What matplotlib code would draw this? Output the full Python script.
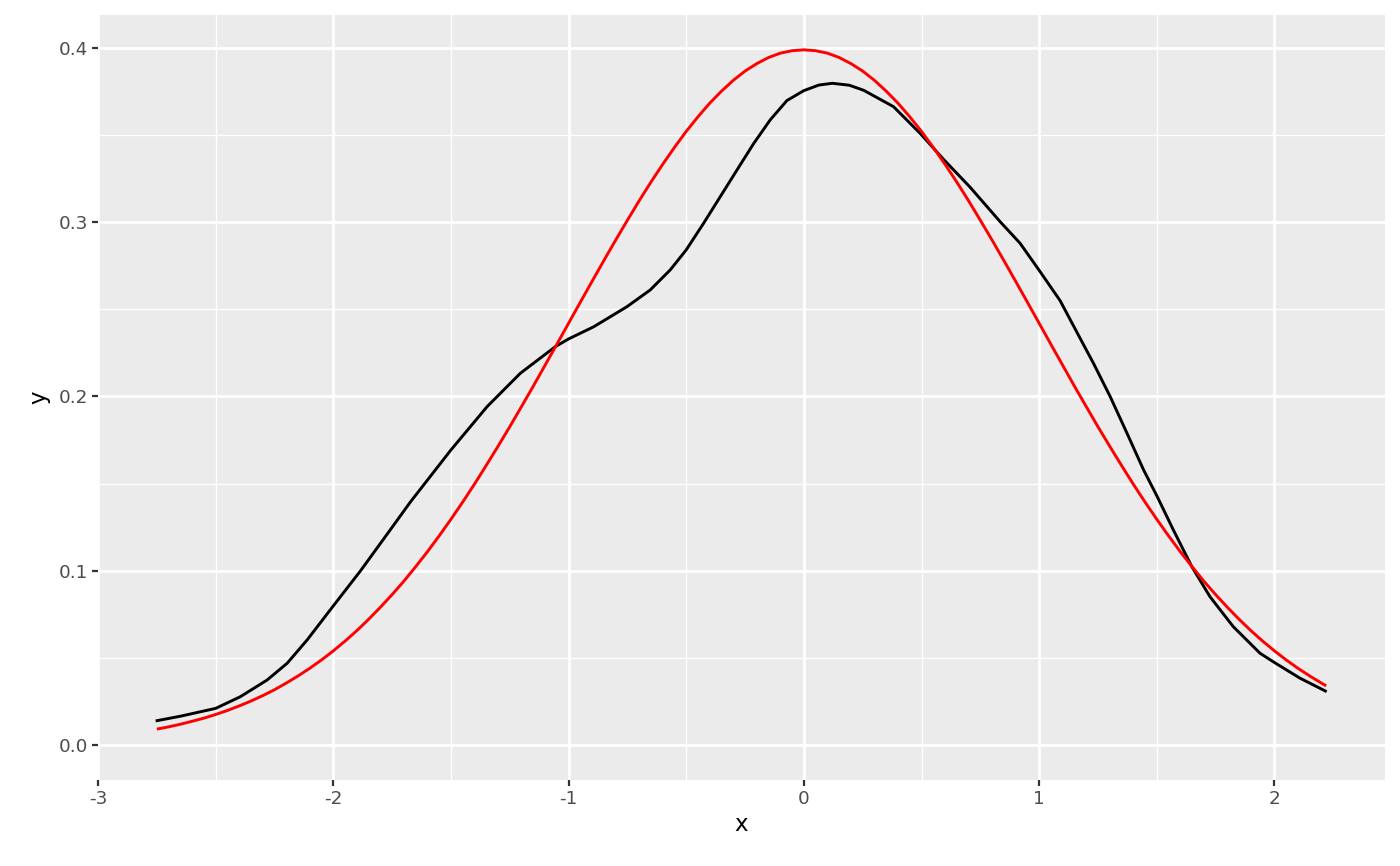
import matplotlib
matplotlib.use('Agg')
import matplotlib.pyplot as plt
from matplotlib.ticker import MultipleLocator, FormatStrFormatter

plt.rcParams['axes.unicode_minus'] = False

dens_x = [-2.755, -2.65, -2.5, -2.395, -2.281, -2.196, -2.111, -2.0, -1.884, -1.771,
          -1.672, -1.5, -1.346, -1.205, -1.056, -1.0, -0.893, -0.752, -0.653, -0.568,
          -0.5, -0.426, -0.355, -0.284, -0.214, -0.143, -0.072, 0.0, 0.064, 0.121,
          0.193, 0.254, 0.381, 0.494, 0.594, 0.707, 0.834, 0.919, 1.0, 1.089,
          1.174, 1.231, 1.302, 1.373, 1.444, 1.502, 1.570, 1.649, 1.726, 1.825,
          1.939, 2.005, 2.109, 2.222]
dens_y = [0.0138, 0.0165, 0.0210, 0.0277, 0.0373, 0.0469, 0.0603, 0.0798, 0.1000, 0.1210,
          0.1395, 0.1693, 0.1942, 0.2133, 0.2286, 0.2330, 0.2400, 0.2515, 0.2611, 0.2726,
          0.2841, 0.2994, 0.3147, 0.3300, 0.3450, 0.3587, 0.3698, 0.3755, 0.3787, 0.3797,
          0.3786, 0.3757, 0.3663, 0.3510, 0.3360, 0.3200, 0.3003, 0.2879, 0.2724, 0.2550,
          0.2334, 0.2190, 0.1999, 0.1790, 0.1578, 0.1425, 0.1235, 0.1023, 0.0851, 0.0679,
          0.0526, 0.0469, 0.0383, 0.0306]

# Normal curve (red)
norm_x = [-2.75, -2.70, -2.65, -2.60, -2.55, -2.50, -2.45, -2.40, -2.35, -2.30,
          -2.25, -2.20, -2.15, -2.10, -2.05, -2.00, -1.95, -1.90, -1.85, -1.80,
          -1.75, -1.70, -1.65, -1.60, -1.55, -1.50, -1.45, -1.40, -1.35, -1.30,
          -1.25, -1.20, -1.15, -1.10, -1.05, -1.00, -0.95, -0.90, -0.85, -0.80,
          -0.75, -0.70, -0.65, -0.60, -0.55, -0.50, -0.45, -0.40, -0.35, -0.30,
          -0.25, -0.20, -0.15, -0.10, -0.05, 0.00, 0.05, 0.10, 0.15, 0.20,
          0.25, 0.30, 0.35, 0.40, 0.45, 0.50, 0.55, 0.60, 0.65, 0.70,
          0.75, 0.80, 0.85, 0.90, 0.95, 1.00, 1.05, 1.10, 1.15, 1.20,
          1.25, 1.30, 1.35, 1.40, 1.45, 1.50, 1.55, 1.60, 1.65, 1.70,
          1.75, 1.80, 1.85, 1.90, 1.95, 2.00, 2.05, 2.10, 2.15, 2.20, 2.22]
norm_y = [0.0091, 0.0104, 0.0119, 0.0136, 0.0154, 0.0175, 0.0198, 0.0224, 0.0252, 0.0283,
          0.0317, 0.0355, 0.0396, 0.0440, 0.0488, 0.0540, 0.0596, 0.0656, 0.0721, 0.0790,
          0.0863, 0.0940, 0.1023, 0.1109, 0.1200, 0.1295, 0.1394, 0.1497, 0.1604, 0.1714,
          0.1826, 0.1942, 0.2059, 0.2179, 0.2299, 0.2420, 0.2541, 0.2661, 0.2780, 0.2897,
          0.3011, 0.3123, 0.3230, 0.3332, 0.3429, 0.3521, 0.3605, 0.3683, 0.3752, 0.3814,
          0.3867, 0.3910, 0.3945, 0.3970, 0.3984, 0.3989, 0.3984, 0.3970, 0.3945, 0.3910,
          0.3867, 0.3814, 0.3752, 0.3683, 0.3605, 0.3521, 0.3429, 0.3332, 0.3230, 0.3123,
          0.3011, 0.2897, 0.2780, 0.2661, 0.2541, 0.2420, 0.2299, 0.2179, 0.2059, 0.1942,
          0.1826, 0.1714, 0.1604, 0.1497, 0.1394, 0.1295, 0.1200, 0.1109, 0.1023, 0.0940,
          0.0863, 0.0790, 0.0721, 0.0656, 0.0596, 0.0540, 0.0488, 0.0440, 0.0396, 0.0355,
          0.0339]

x_ticks = [-3, -2, -1, 0, 1, 2]

fig = plt.figure(figsize=(14, 8.66), dpi=100)
ax = fig.add_axes([0.07, 0.0993, 0.9193, 0.8834])
ax.set_facecolor('#EBEBEB')
for s in ax.spines.values():
    s.set_visible(False)

ax.plot(dens_x, dens_y, color='black', lw=2.1, zorder=3,
        solid_joinstyle='round', solid_capstyle='butt')
ax.plot(norm_x, norm_y, color='red', lw=2.1, zorder=3,
        solid_joinstyle='round', solid_capstyle='butt')

ax.set_xlim(-3.0, 2.47)
ax.set_ylim(-0.0201, 0.4189)
ax.set_xticks(x_ticks)
ax.yaxis.set_major_locator(MultipleLocator(0.1))
ax.yaxis.set_major_formatter(FormatStrFormatter('%.1f'))
ax.xaxis.set_minor_locator(MultipleLocator(0.5))
ax.yaxis.set_minor_locator(MultipleLocator(0.05))

ax.grid(which='major', color='white', lw=2.0, zorder=1)
ax.grid(which='minor', color='white', lw=1.0, zorder=1)
ax.set_axisbelow(True)

ax.tick_params(which='major', length=4.1, width=1.6, color='#333333',
               labelsize=13.2, labelcolor='#4D4D4D', pad=3)
ax.tick_params(which='minor', length=0)

ax.set_xlabel('x', fontsize=16.5, labelpad=4)
ax.set_ylabel('y', fontsize=16.5, labelpad=6)

fig.savefig('out.png', dpi=100, facecolor='white')
